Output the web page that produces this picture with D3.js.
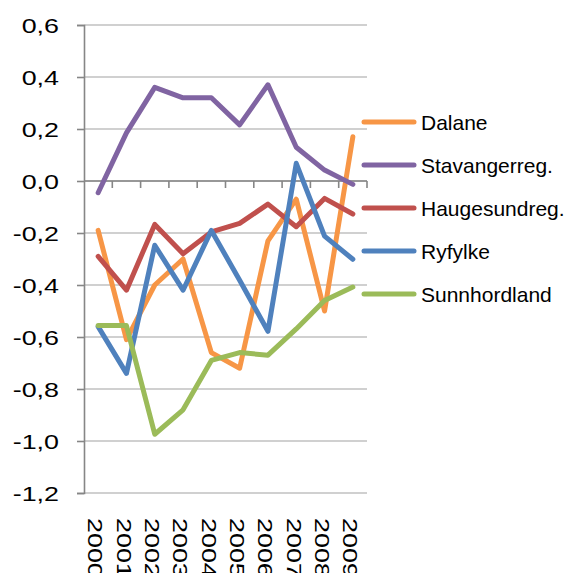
<!DOCTYPE html>
<html>
<head>
<meta charset="utf-8">
<script src="https://cdn.jsdelivr.net/npm/d3@7"></script>
<style>
  html, body { margin: 0; padding: 0; background: #fff; }
  svg { display: block; font-family: "Liberation Sans", Arial, sans-serif; }
</style>
</head>
<body>
<div id="chart"></div>
<script>
const years = ["2000", "2001", "2002", "2003", "2004", "2005", "2006", "2007", "2008", "2009"];
const yTicks = [0.6, 0.4, 0.2, 0.0, -0.2, -0.4, -0.6, -0.8, -1.0, -1.2];

const seriesNames = ["Dalane", "Stavangerreg.", "Haugesundreg.", "Ryfylke", "Sunnhordland"];
const seriesColors = ["#F79646", "#8064A2", "#C0504D", "#4F81BD", "#9BBB59"];

const dalane = [-0.19, -0.61, -0.40, -0.30, -0.66, -0.72, -0.23, -0.07, -0.50, 0.17];
const stavanger = [-0.045, 0.185, 0.36, 0.32, 0.32, 0.216, 0.37, 0.13, 0.042, -0.013];
const haugesund = [-0.29, -0.42, -0.167, -0.28, -0.196, -0.163, -0.089, -0.176, -0.067, -0.127];
const ryfylke = [-0.56, -0.74, -0.247, -0.42, -0.19, -0.382, -0.578, 0.068, -0.212, -0.301];
const sunnhordland = [-0.556, -0.556, -0.974, -0.88, -0.69, -0.66, -0.67, -0.569, -0.46, -0.408];

const seriesValues = [dalane, stavanger, haugesund, ryfylke, sunnhordland];

const width = 566;
const height = 573;

const svg = d3.select("#chart")
  .append("svg")
  .attr("width", width)
  .attr("height", height);

const x = d3.scalePoint()
  .domain(years)
  .range([84, 367])
  .padding(0.5);

const y = d3.scaleLinear()
  .domain([-1.2, 0.6])
  .range([493, 25]);

const fmt = v => d3.format(".1f")(v).replace(".", ",").replace("−", "-");

// gridlines
svg.append("g")
  .selectAll("line")
  .data(yTicks)
  .join("line")
  .attr("x1", 84)
  .attr("x2", 367)
  .attr("y1", d => y(d))
  .attr("y2", d => y(d))
  .attr("stroke", "#c0c0c0")
  .attr("stroke-width", 1.6);

// y axis
const yAxis = svg.append("g")
  .attr("transform", "translate(84,0)")
  .call(d3.axisLeft(y).tickValues(yTicks).tickSize(7).tickFormat(fmt));
yAxis.select(".domain").attr("stroke", "#868686").attr("stroke-width", 1.6);
yAxis.selectAll(".tick line").attr("stroke", "#868686").attr("stroke-width", 1.6);
yAxis.selectAll(".tick text")
  .attr("x", null)
  .attr("dy", null)
  .attr("fill", "#000")
  .attr("font-size", 21)
  .attr("text-anchor", "end")
  .attr("transform", "translate(-25,7.5) scale(1.28,1)");

// x axis at zero
const xAxis = svg.append("g")
  .attr("transform", `translate(0,${y(0)})`);
xAxis.append("line")
  .attr("x1", 84)
  .attr("x2", 367)
  .attr("stroke", "#868686")
  .attr("stroke-width", 1.6);
xAxis.selectAll(".xtick")
  .data(years)
  .join("line")
  .attr("class", "xtick")
  .attr("x1", d => x(d) + x.step() / 2)
  .attr("x2", d => x(d) + x.step() / 2)
  .attr("y1", 0)
  .attr("y2", 7)
  .attr("stroke", "#868686")
  .attr("stroke-width", 1.6);

// x labels, rotated
svg.append("g")
  .selectAll("text")
  .data(years)
  .join("text")
  .attr("transform", d => `translate(${x(d) - 9.7},518) rotate(90) scale(1.28,1)`)
  .attr("font-size", 21)
  .attr("fill", "#000")
  .text(d => d);

// lines
const line = d3.line()
  .x((d, i) => x(years[i]))
  .y(d => y(d));

svg.append("g")
  .selectAll("path")
  .data(seriesValues)
  .join("path")
  .attr("d", d => line(d))
  .attr("fill", "none")
  .attr("stroke", (d, i) => seriesColors[i])
  .attr("stroke-width", 5)
  .attr("stroke-linejoin", "round")
  .attr("stroke-linecap", "round");

// legend
const legendY = d3.scalePoint()
  .domain(seriesNames)
  .range([122, 294]);

const legend = svg.append("g")
  .selectAll("g")
  .data(seriesNames)
  .join("g")
  .attr("transform", d => `translate(0,${legendY(d)})`);

legend.append("line")
  .attr("x1", 364)
  .attr("x2", 414)
  .attr("stroke", (d, i) => seriesColors[i])
  .attr("stroke-width", 5)
  .attr("stroke-linecap", "round");

legend.append("text")
  .attr("x", 421)
  .attr("y", 7.5)
  .attr("font-size", 21)
  .attr("fill", "#000")
  .text(d => d);
</script>
</body>
</html>
